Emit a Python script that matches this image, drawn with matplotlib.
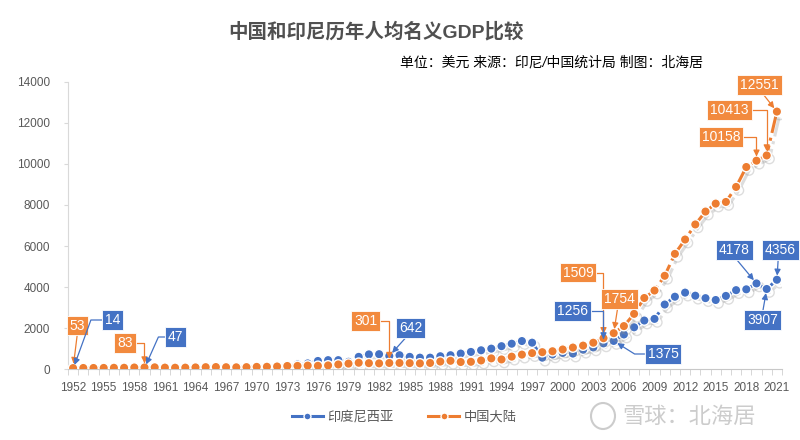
import numpy as np
import matplotlib
matplotlib.use('Agg')
import matplotlib.pyplot as plt
import matplotlib.patheffects as pe
from matplotlib.patches import Ellipse

plt.rcParams['font.family'] = ['Liberation Sans', 'Noto Sans CJK SC', 'DejaVu Sans']

# data
years = list(range(1952, 2022))
indonesia = [14, 20, 25, 28, 30, 35, 40, 47, 50, 52,
             55, 58, 60, 62, 58, 54, 64, 78, 80, 83,
             95, 150, 230, 280, 400, 440, 440, 360, 600, 720,
             730, 642, 680, 600, 560, 560, 630, 680, 760, 840,
             920, 1000, 1120, 1240, 1370, 1290, 560, 720, 790, 760,
             950, 1060, 1256, 1375, 1690, 2040, 2370, 2450, 3150, 3530,
             3730, 3580, 3460, 3370, 3570, 3850, 3890, 4178, 3907, 4356]
china = [53, 58, 58, 61, 67, 68, 81, 83, 89, 75,
         70, 74, 85, 97, 103, 95, 90, 99, 112, 117,
         130, 155, 158, 174, 163, 182, 229, 271, 312, 292,
         282, 301, 302, 294, 282, 302, 370, 407, 348, 359,
         423, 525, 473, 610, 709, 782, 828, 873, 959, 1053,
         1148, 1288, 1509, 1754, 2099, 2694, 3468, 3832, 4550, 5618,
         6317, 7051, 7679, 8067, 8148, 8879, 9850, 10158, 10413, 12551]
series_names = ['印度尼西亚', '中国大陆']

BLUE = '#4472C4'
ORANGE = '#ED7D31'
BOX_OR = '#F28A3E'

fig = plt.figure(figsize=(8, 4.4), dpi=100)
ax = fig.add_axes([0.085, 0.161, 0.8925, 0.653])

x = np.arange(len(years))
shadow = [pe.SimpleLineShadow(offset=(2, -2.5), shadow_color='#909090', alpha=0.3), pe.Normal()]
ax.plot(x, indonesia, ls='-.', lw=2.2, color=BLUE, marker='o', ms=6.8, mfc=BLUE, mec='white', mew=1,
        label=series_names[0], path_effects=shadow, zorder=3)
ax.plot(x, china, ls='-.', lw=2.2, color=ORANGE, marker='o', ms=6.8, mfc=ORANGE, mec='white', mew=1,
        label=series_names[1], path_effects=shadow, zorder=4)

ax.set_xlim(-0.5, len(years) - 0.5)
ax.set_ylim(0, 14000)
ax.set_yticks(range(0, 14001, 2000))
ax.set_xticks(x[::3])
ax.set_xticklabels([str(y) for y in years[::3]])
ax.set_xticks(np.arange(-0.5, len(years), 1), minor=True)
ax.tick_params(axis='x', which='major', length=0, pad=9, labelsize=8.5, colors='#595959')
ax.tick_params(axis='x', which='minor', length=4, color='#d0d0d0')
ax.tick_params(axis='y', length=3, color='#d9d9d9', pad=10, labelsize=8.5, labelcolor='#595959')
for s in ['top', 'right']:
    ax.spines[s].set_visible(False)
ax.spines['left'].set_color('#d9d9d9')
ax.spines['bottom'].set_color('#c8c8c8')

# callouts: (series, year, box centre in px from top-left, relpos, connection)
H = 440
callouts = [
    ('c', 1952, (77.5, 325.5), (0.5, 0), None),
    ('i', 1952, (112.5, 320), (0, 0.5), 70),
    ('c', 1959, (125, 343), (1, 0.5), 90),
    ('i', 1959, (175.5, 337), (0, 0.5), 66),
    ('c', 1983, (365.5, 321), (1, 0.5), 90),
    ('i', 1983, (410.5, 328), (0.4, 0), None),
    ('c', 2004, (578, 272.5), (1, 0.5), 90),
    ('c', 2005, (619.5, 299), (0.45, 0), None),
    ('i', 2004, (572.5, 311), (1, 0.5), 90),
    ('i', 2005, (663, 354), (0, 0.5), 148),
    ('c', 2019, (721, 137), (1, 0.5), 90),
    ('c', 2020, (729.5, 110), (1, 0.5), 90),
    ('c', 2021, (759.5, 85), (0.55, 0), None),
    ('i', 2019, (734.5, 250), (0.5, 0), None),
    ('i', 2021, (780.5, 250), (0.43, 0), None),
    ('i', 2020, (762.5, 320), (0.5, 1), None),
]
for ser, yr, (bx, by), rp, ang in callouts:
    vals = china if ser == 'c' else indonesia
    col = BOX_OR if ser == 'c' else BLUE
    lcol = ORANGE if ser == 'c' else BLUE
    k = years.index(yr)
    cs = 'arc3' if ang is None else 'angle,angleA=0,angleB=%d,rad=0' % ang
    ax.annotate(str(vals[k]), xy=(k, vals[k]), xycoords='data',
                xytext=(bx, H - by), textcoords='figure pixels',
                ha='center', va='center', color='white', fontsize=10,
                bbox=dict(boxstyle='square,pad=0.2', fc=col, ec='#ffffff', lw=0.6, alpha=1),
                arrowprops=dict(arrowstyle='-|>', mutation_scale=9, lw=0.9, color=lcol,
                                shrinkA=0, shrinkB=3, relpos=rp, connectionstyle=cs),
                annotation_clip=False, zorder=6)

fig.text(0.47, 1 - 32 / H, '中国和印尼历年人均名义GDP比较', ha='center', va='center',
         fontsize=14, fontweight='bold', color='#505050')
fig.text(703 / 800, 1 - 62 / H, '单位：美元 来源：印尼/中国统计局 制图：北海居', ha='right', va='center',
         fontsize=10, style='italic', color='#000000')

leg = fig.legend(loc='center', bbox_to_anchor=(404 / 800, 23 / H), ncol=2, frameon=False,
                 fontsize=9.5, handlelength=2.4, columnspacing=2.6, handletextpad=0.3)
for t in leg.get_texts():
    t.set_color('#595959')
for h in leg.legend_handles:
    h.set_path_effects([])
    h.set_markersize(5)
    h.set_linestyle('-')

# watermark
fig.text(622 / 800, 23 / H, '雪球：北海居', ha='left', va='center', fontsize=16, color='#cccccc')
fig.patches.append(Ellipse((603 / 800, 24 / H), 24 / 800, 26 / H, transform=fig.transFigure,
                           fill=False, ec='#cccccc', lw=1.5))

fig.savefig('out.png', dpi=100)
